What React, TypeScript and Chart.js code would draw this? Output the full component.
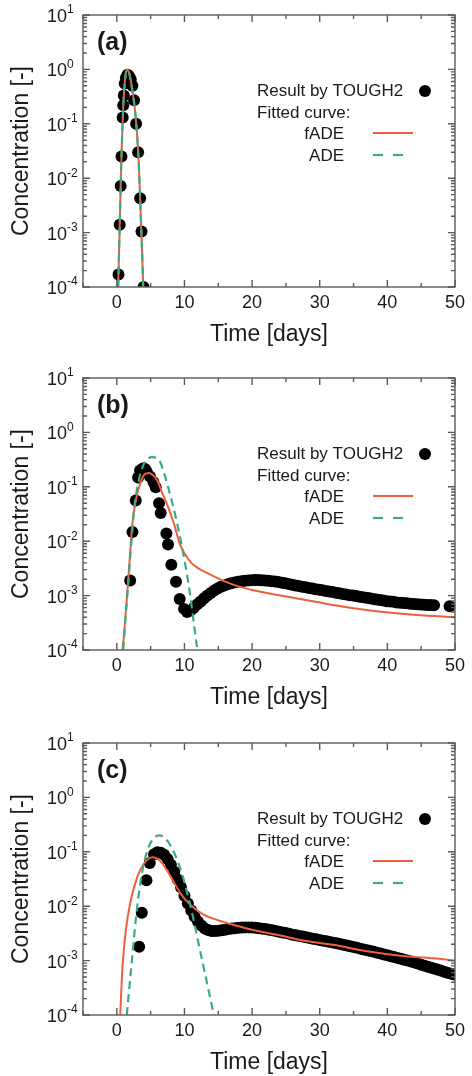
import { useEffect, useRef } from 'react';
import { Chart, registerables } from 'chart.js';

Chart.register(...registerables);

const FONT = "'Liberation Sans', Arial, Helvetica, sans-serif";
const ORANGE = '#EF5F3C';
const GREEN = '#3AAA88';
const TEXT = '#1a1a1a';
const FRAME = '#5a5a5a';

// ---- axis / text constants ----
const X_MAJOR_TICKS = [0, 10, 20, 30, 40, 50];
const X_MINOR_TICKS = [-5, 5, 15, 25, 35, 45];
const Y_EXPONENTS = [-4, -3, -2, -1, 0, 1];
const Y_TICK_EXP_LABELS = ['-4', '-3', '-2', '-1', '0', '1'];
const Y_MINOR_MULTIPLIERS = [2, 3, 4, 5, 6, 7, 8, 9];
const X_TITLE = 'Time [days]';
const Y_TITLE = 'Concentration [-]';
const LEGEND_POINTS = 'Result by TOUGH2';
const LEGEND_HEADER = 'Fitted curve:';
const LEGEND_FADE = 'fADE';
const LEGEND_ADE = 'ADE';
const PANEL_LABELS = ['(a)', '(b)', '(c)'];

// ---- panel (a) ----
const A_TOUGH2_T = [0.25, 0.43, 0.57, 0.69, 0.87, 0.95, 1.03, 1.18, 1.35, 1.58, 1.8, 2.06, 2.3, 2.55, 2.85, 3.15, 3.45, 3.65, 3.95];
const A_TOUGH2_C = [1.7e-4, 1.4e-3, 7.2e-3, 0.025, 0.13, 0.22, 0.33, 0.55, 0.7, 0.8, 0.76, 0.65, 0.5, 0.27, 0.1, 0.03, 4.3e-3, 1.05e-3, 1.0e-4];
const A_FADE_T = [0.2, 0.3, 0.4, 0.5, 0.6, 0.7, 0.85, 1.0, 1.2, 1.4, 1.55, 1.7, 1.9, 2.06, 2.3, 2.55, 2.8, 3.0, 3.2, 3.4, 3.6, 3.75, 3.9];
const A_FADE_C = [1e-4, 3.2e-4, 1e-3, 3.2e-3, 0.01, 0.028, 0.1, 0.28, 0.63, 0.93, 0.98, 0.95, 0.79, 0.63, 0.4, 0.25, 0.126, 0.063, 0.025, 6.3e-3, 1.26e-3, 4e-4, 1e-4];
const A_ADE_T = [0.2, 0.3, 0.4, 0.5, 0.6, 0.7, 0.85, 1.0, 1.2, 1.4, 1.55, 1.7, 1.9, 2.06, 2.3, 2.55, 2.8, 3.0, 3.2, 3.4, 3.6, 3.75, 3.9];
const A_ADE_C = [1e-4, 3.2e-4, 1e-3, 3.2e-3, 0.01, 0.028, 0.1, 0.28, 0.63, 0.93, 0.98, 0.95, 0.79, 0.63, 0.4, 0.25, 0.126, 0.063, 0.025, 6.3e-3, 1.26e-3, 4e-4, 1e-4];

// ---- panel (b) ----
const B_TOUGH2_T = [
  1.97, 2.31, 2.8, 3.15, 3.44, 3.7, 3.93, 4.2, 4.42, 4.9, 5.41, 5.75, 6.24, 6.49, 7.33, 7.57, 8.06, 8.75, 9.3, 9.93,
  10.4, 10.9, 11.4, 11.9, 12.4, 12.9, 13.4, 13.9, 14.4, 14.9, 15.4, 15.9, 16.4, 16.9, 17.4, 17.9, 18.4, 18.9, 19.4, 19.9,
  20.4, 20.9, 21.4, 21.9, 22.4, 22.9, 23.4, 23.9, 24.4, 24.9, 25.4, 25.9, 26.4, 26.9, 27.4, 27.9, 28.4, 28.9, 29.4, 29.9,
  30.4, 30.9, 31.4, 31.9, 32.4, 32.9, 33.4, 33.9, 34.4, 34.9, 35.4, 35.9, 36.4, 36.9, 37.4, 37.9, 38.4, 38.9, 39.4, 39.9,
  40.4, 40.9, 41.4, 41.9, 42.4, 42.9, 43.4, 43.9, 44.4, 44.9, 45.4, 45.9, 46.4, 46.9, 49.2,
];
const B_TOUGH2_C = [
  1.9e-3, 0.0148, 0.056, 0.148, 0.2, 0.21, 0.22, 0.21, 0.19, 0.155, 0.123, 0.098, 0.05, 0.033, 0.0138, 8.7e-3, 3.7e-3, 1.8e-3, 8.7e-4, 5.7e-4,
  5.0e-4, 5.3e-4, 6.0e-4, 6.9e-4, 7.8e-4, 8.9e-4, 1.0e-3, 1.12e-3, 1.24e-3, 1.35e-3, 1.45e-3, 1.54e-3, 1.62e-3, 1.69e-3, 1.75e-3, 1.8e-3, 1.84e-3, 1.88e-3, 1.9e-3, 1.92e-3,
  1.93e-3, 1.93e-3, 1.92e-3, 1.9e-3, 1.87e-3, 1.84e-3, 1.81e-3, 1.77e-3, 1.73e-3, 1.68e-3, 1.63e-3, 1.59e-3, 1.54e-3, 1.5e-3, 1.46e-3, 1.42e-3, 1.38e-3, 1.35e-3, 1.31e-3, 1.28e-3,
  1.25e-3, 1.22e-3, 1.19e-3, 1.16e-3, 1.13e-3, 1.1e-3, 1.07e-3, 1.05e-3, 1.02e-3, 1.0e-3, 9.8e-4, 9.5e-4, 9.3e-4, 9.1e-4, 8.9e-4, 8.7e-4, 8.5e-4, 8.3e-4, 8.1e-4, 7.9e-4,
  7.8e-4, 7.7e-4, 7.5e-4, 7.4e-4, 7.3e-4, 7.2e-4, 7.1e-4, 7.0e-4, 6.9e-4, 6.85e-4, 6.8e-4, 6.75e-4, 6.7e-4, 6.65e-4, 6.4e-4,
];
const B_FADE_T = [0.84, 1.08, 1.57, 1.96, 2.3, 2.8, 3.3, 4.03, 4.77, 5.26, 6.0, 6.5, 7.5, 8.5, 9.3, 10.0, 11.0, 12.0, 13.4, 16.3, 20.2, 24.2, 29.6, 34.5, 39.4, 44.3, 50];
const B_FADE_C = [1e-4, 2e-4, 1.26e-3, 5.9e-3, 0.021, 0.056, 0.1, 0.166, 0.18, 0.166, 0.13, 0.09, 0.045, 0.02, 9e-3, 6e-3, 4e-3, 3.2e-3, 2.6e-3, 1.75e-3, 1.25e-3, 1.0e-3, 7.6e-4, 6.0e-4, 5.0e-4, 4.4e-4, 4.0e-4];
const B_ADE_T = [0.95, 1.3, 1.6, 2.06, 2.55, 3.05, 3.8, 4.5, 5.2, 6.25, 7.1, 7.96, 8.7, 9.44, 10.66, 11.9];
const B_ADE_C = [1e-4, 4e-4, 1.2e-3, 6.8e-3, 0.037, 0.1, 0.23, 0.32, 0.35, 0.31, 0.16, 0.066, 0.028, 0.0105, 1.45e-3, 1e-4];

// ---- panel (c) ----
const C_TOUGH2_T = [
  3.3, 3.69, 4.38, 4.87,
  5.5, 6.0, 6.5, 7.0, 7.5, 8.0, 8.5, 9.0, 9.5, 10.0, 10.5, 11.0, 11.5, 12.0, 12.5, 13.0, 13.5, 14.0, 14.5, 15.0,
  15.5, 16.0, 16.5, 17.0, 17.5, 18.0, 18.5, 19.0, 19.5, 20.0, 20.5, 21.0, 21.5, 22.0, 22.5, 23.0, 23.5, 24.0, 24.5, 25.0,
  25.5, 26.0, 26.5, 27.0, 27.5, 28.0, 28.5, 29.0, 29.5, 30.0, 30.5, 31.0, 31.5, 32.0, 32.5, 33.0, 33.5, 34.0, 34.5, 35.0,
  35.5, 36.0, 36.5, 37.0, 37.5, 38.0, 38.5, 39.0, 39.5, 40.0, 40.5, 41.0, 41.5, 42.0, 42.5, 43.0, 43.5, 44.0, 44.5, 45.0,
  45.5, 46.0, 46.5, 47.0, 47.5, 48.0, 48.5, 49.0, 49.5, 50.0,
];
const C_TOUGH2_C = [
  1.8e-3, 7.6e-3, 0.03, 0.062,
  0.09, 0.098, 0.096, 0.088, 0.074, 0.058, 0.043, 0.031, 0.022, 0.0155, 0.0112, 8.3e-3, 6.4e-3, 5.2e-3, 4.4e-3, 3.9e-3, 3.65e-3, 3.5e-3, 3.5e-3, 3.55e-3,
  3.62e-3, 3.7e-3, 3.8e-3, 3.88e-3, 3.95e-3, 4.0e-3, 4.05e-3, 4.08e-3, 4.08e-3, 4.05e-3, 4.0e-3, 3.94e-3, 3.87e-3, 3.8e-3, 3.7e-3, 3.6e-3, 3.5e-3, 3.4e-3, 3.3e-3, 3.2e-3,
  3.1e-3, 3.0e-3, 2.92e-3, 2.84e-3, 2.76e-3, 2.68e-3, 2.6e-3, 2.53e-3, 2.46e-3, 2.39e-3, 2.32e-3, 2.26e-3, 2.2e-3, 2.14e-3, 2.08e-3, 2.02e-3, 1.96e-3, 1.9e-3, 1.84e-3, 1.78e-3,
  1.72e-3, 1.66e-3, 1.6e-3, 1.55e-3, 1.5e-3, 1.45e-3, 1.4e-3, 1.35e-3, 1.3e-3, 1.25e-3, 1.2e-3, 1.16e-3, 1.12e-3, 1.08e-3, 1.04e-3, 1.0e-3, 9.6e-4, 9.2e-4, 8.8e-4, 8.4e-4,
  8.0e-4, 7.7e-4, 7.4e-4, 7.1e-4, 6.8e-4, 6.5e-4, 6.2e-4, 5.9e-4, 5.7e-4, 5.5e-4,
];
const C_FADE_T = [0.5, 0.84, 1.33, 2.06, 3.05, 4.03, 5.26, 6.5, 7.96, 9.44, 10.9, 12.9, 14.8, 17.3, 20.3, 24.2, 27.1, 32, 37, 41.9, 46.8, 50];
const C_FADE_C = [1e-4, 7.8e-4, 3.6e-3, 0.0128, 0.035, 0.061, 0.079, 0.066, 0.035, 0.017, 0.0105, 6.9e-3, 5.6e-3, 4.5e-3, 3.6e-3, 2.9e-3, 2.4e-3, 1.95e-3, 1.48e-3, 1.23e-3, 1.1e-3, 1.0e-3];
const C_ADE_T = [1.47, 2.06, 2.8, 3.54, 4.52, 5.75, 6.3, 7.7, 9.44, 10.9, 12.4, 14.35];
const C_ADE_C = [1e-4, 5.9e-4, 5.6e-3, 0.03, 0.107, 0.19, 0.2, 0.145, 0.047, 0.01, 1.35e-3, 1e-4];

const PANELS = [
  { label: PANEL_LABELS[0], pt: [A_TOUGH2_T, A_TOUGH2_C], fade: [A_FADE_T, A_FADE_C], ade: [A_ADE_T, A_ADE_C] },
  { label: PANEL_LABELS[1], pt: [B_TOUGH2_T, B_TOUGH2_C], fade: [B_FADE_T, B_FADE_C], ade: [B_ADE_T, B_ADE_C] },
  { label: PANEL_LABELS[2], pt: [C_TOUGH2_T, C_TOUGH2_C], fade: [C_FADE_T, C_FADE_C], ade: [C_ADE_T, C_ADE_C] },
];
const PANEL_TOPS = [0, 363, 728];

const zip = (xs: number[], ys: number[]) => xs.map((x, i) => ({ x, y: ys[i] }));

function framePlugin(label: string) {
  return {
    id: 'frame',
    afterDraw(chart: any) {
      const { ctx, chartArea, scales } = chart;
      const xs = scales.x;
      const ys = scales.y;
      const { left, right, top, bottom } = chartArea;
      ctx.save();
      // frame
      ctx.strokeStyle = FRAME;
      ctx.lineWidth = 1.4;
      ctx.strokeRect(left, top, right - left, bottom - top);
      // ticks (inward, all four sides)
      ctx.beginPath();
      const xTick = (v: number, len: number) => {
        const px = xs.getPixelForValue(v);
        ctx.moveTo(px, bottom);
        ctx.lineTo(px, bottom - len);
        ctx.moveTo(px, top);
        ctx.lineTo(px, top + len);
      };
      const yTick = (v: number, len: number) => {
        const py = ys.getPixelForValue(v);
        ctx.moveTo(left, py);
        ctx.lineTo(left + len, py);
        ctx.moveTo(right, py);
        ctx.lineTo(right - len, py);
      };
      X_MAJOR_TICKS.forEach((v) => xTick(v, 7));
      X_MINOR_TICKS.forEach((v) => xTick(v, 4));
      Y_EXPONENTS.forEach((e, i) => {
        const base = Math.pow(10, e);
        yTick(base, 7);
        if (i < Y_EXPONENTS.length - 1) Y_MINOR_MULTIPLIERS.forEach((m) => yTick(m * base, 4));
      });
      ctx.stroke();

      // y tick labels 10^n
      ctx.fillStyle = TEXT;
      Y_EXPONENTS.forEach((e, i) => {
        const py = ys.getPixelForValue(Math.pow(10, e));
        ctx.font = `18px ${FONT}`;
        ctx.textAlign = 'right';
        ctx.textBaseline = 'middle';
        ctx.fillText('10', left - 16, py + 2);
        ctx.font = `12px ${FONT}`;
        ctx.textAlign = 'left';
        ctx.fillText(Y_TICK_EXP_LABELS[i], left - 16, py - 5);
      });

      // panel label
      ctx.font = `bold 25px ${FONT}`;
      ctx.textAlign = 'left';
      ctx.textBaseline = 'middle';
      ctx.fillText(label, left + 14, top + 28);

      // legend
      ctx.font = `17px ${FONT}`;
      ctx.textBaseline = 'middle';
      ctx.textAlign = 'left';
      ctx.fillText(LEGEND_POINTS, left + 174, top + 76);
      ctx.fillText(LEGEND_HEADER, left + 174, top + 98);
      ctx.textAlign = 'right';
      ctx.fillText(LEGEND_FADE, left + 261, top + 119);
      ctx.fillText(LEGEND_ADE, left + 261, top + 141);

      ctx.beginPath();
      ctx.fillStyle = '#000';
      ctx.arc(left + 342, top + 76, 6, 0, Math.PI * 2);
      ctx.fill();

      ctx.lineWidth = 2;
      ctx.strokeStyle = ORANGE;
      ctx.setLineDash([]);
      ctx.beginPath();
      ctx.moveTo(left + 290, top + 118);
      ctx.lineTo(left + 330, top + 118);
      ctx.stroke();

      ctx.strokeStyle = GREEN;
      ctx.lineWidth = 2.2;
      ctx.setLineDash([10, 10]);
      ctx.beginPath();
      ctx.moveTo(left + 290, top + 140);
      ctx.lineTo(left + 320, top + 140);
      ctx.stroke();
      ctx.restore();
    },
  };
}

function Panel({ index }: { index: number }) {
  const ref = useRef<HTMLCanvasElement | null>(null);
  useEffect(() => {
    const p = PANELS[index];
    const chart = new Chart(ref.current as HTMLCanvasElement, {
      type: 'scatter',
      data: {
        datasets: [
          {
            label: LEGEND_POINTS,
            data: zip(p.pt[0], p.pt[1]),
            showLine: false,
            pointRadius: 6,
            pointBackgroundColor: '#000',
            pointBorderWidth: 0,
            order: 3,
          } as any,
          {
            label: LEGEND_FADE,
            data: zip(p.fade[0], p.fade[1]),
            showLine: true,
            pointRadius: 0,
            borderColor: ORANGE,
            borderWidth: 2,
            cubicInterpolationMode: 'monotone',
            order: 2,
          } as any,
          {
            label: LEGEND_ADE,
            data: zip(p.ade[0], p.ade[1]),
            showLine: true,
            pointRadius: 0,
            borderColor: GREEN,
            borderWidth: 2.2,
            borderDash: [8, 5],
            cubicInterpolationMode: 'monotone',
            order: 1,
          } as any,
        ],
      },
      options: {
        animation: false,
        responsive: false,
        devicePixelRatio: 1,
        layout: { padding: { top: 15, right: 17, left: 0, bottom: 0 } },
        plugins: { legend: { display: false }, tooltip: { enabled: false } },
        scales: {
          x: {
            type: 'linear',
            min: -5,
            max: 50,
            grid: { display: false, drawTicks: false },
            border: { display: false },
            afterBuildTicks: (s: any) => {
              s.ticks = X_MAJOR_TICKS.map((v) => ({ value: v }));
            },
            afterFit: (s: any) => {
              s.height = 61;
            },
            ticks: {
              font: { size: 18, family: FONT },
              color: TEXT,
              padding: 5,
              maxRotation: 0,
              autoSkip: false,
              callback: (v: any) => String(v),
            },
            title: {
              display: true,
              text: X_TITLE,
              font: { size: 23, family: FONT },
              color: TEXT,
              padding: { top: 0, bottom: 0 },
            },
          },
          y: {
            type: 'logarithmic',
            min: 1e-4,
            max: 10,
            grid: { display: false, drawTicks: false },
            border: { display: false },
            ticks: { display: false },
            afterFit: (s: any) => {
              s.width = 83;
            },
            title: {
              display: true,
              text: Y_TITLE,
              font: { size: 23, family: FONT },
              color: TEXT,
              padding: { top: 8, bottom: 0 },
            },
          },
        },
      } as any,
      plugins: [framePlugin(p.label)],
    });
    return () => chart.destroy();
  }, [index]);
  return (
    <div style={{ position: 'absolute', left: 0, top: PANEL_TOPS[index], width: 472, height: 348 }}>
      <canvas ref={ref} width={472} height={348} style={{ display: 'block' }} />
    </div>
  );
}

export default function App() {
  return (
    <div style={{ position: 'absolute', left: 0, top: 0, width: 472, height: 1076, background: '#fff' }}>
      <Panel index={0} />
      <Panel index={1} />
      <Panel index={2} />
    </div>
  );
}
